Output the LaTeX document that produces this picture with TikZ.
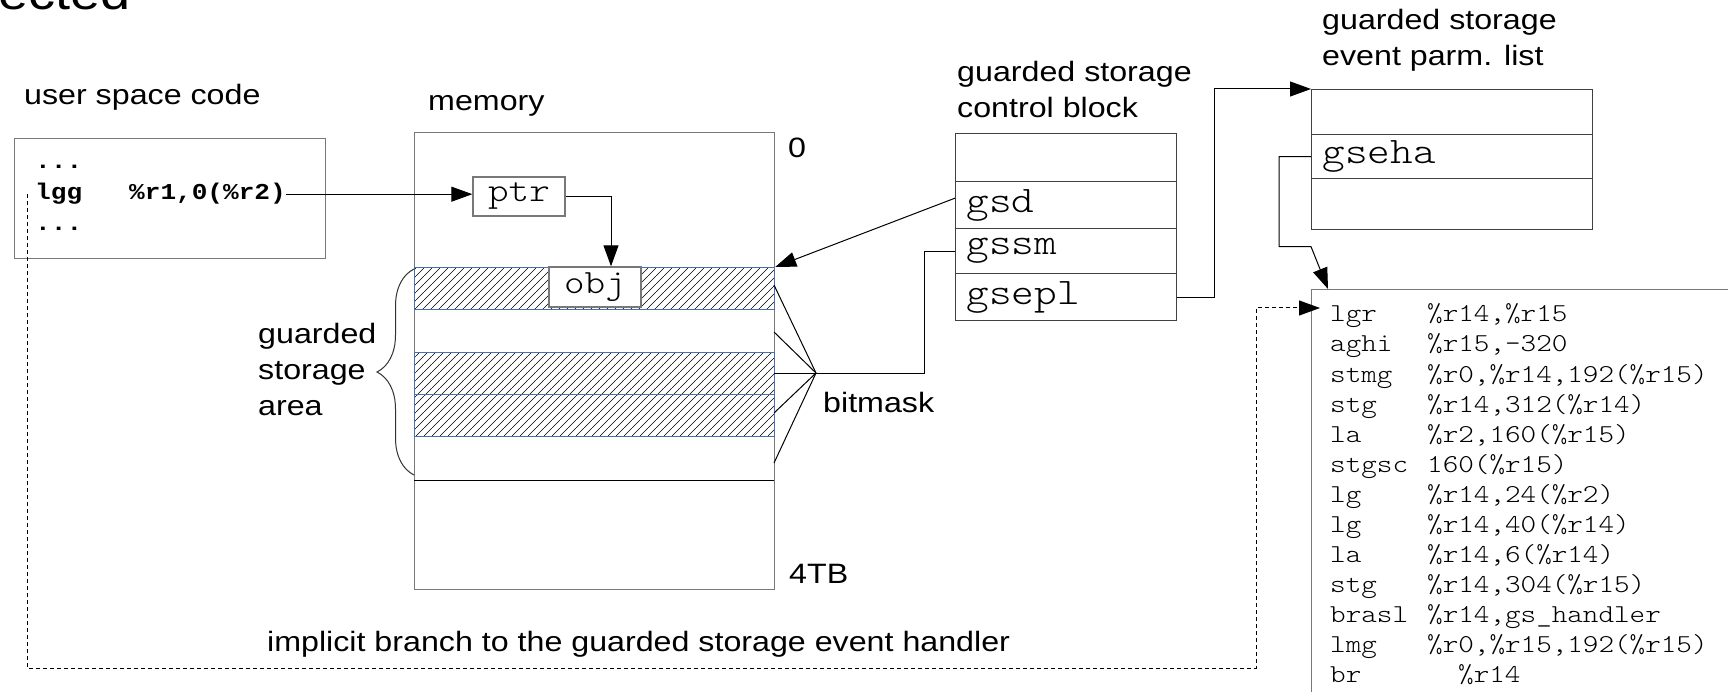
\documentclass[tikz,border=0pt]{standalone}
\usepackage{fontspec}
\setmainfont{Liberation Sans}[FakeStretch=1.15]
\newfontfamily\codefont{Latin Modern Mono Light}[FakeStretch=1.15]
\newfontfamily\boldcode{Liberation Mono}[FakeStretch=1.15]
\usetikzlibrary{arrows.meta,patterns.meta,decorations.pathreplacing,calc}

\definecolor{bandblue}{RGB}{75,110,175}
\definecolor{boxgray}{RGB}{120,120,120}

% diagonal hatching for the guarded bands
\tikzdeclarepattern{
  name=hatch,
  type=uncolored,
  bounding box={(0pt,0pt) and (8pt,8pt)},
  tile size={(8pt,8pt)},
  code={\draw[line width=0.6pt] (-1pt,-1pt) -- (9pt,9pt);}
}

\begin{document}
\begin{tikzpicture}[x=1pt,y=-1pt,
  lbl/.style={font=\fontsize{28}{36}\selectfont, inner sep=0pt, text=black},
  box/.style={rectangle, draw=boxgray, line width=1.3pt, fill=white, inner sep=0pt},
  row/.style={box, draw=black!75, anchor=north west, align=left, inner xsep=11pt, inner ysep=0pt,
    font=\codefont\fontsize{37.5}{40}\selectfont},
  small/.style={box, font=\codefont\fontsize{34}{40}\selectfont},
  ucode/.style={inner sep=0pt, font=\boldcode\bfseries\fontsize{22.7}{31}\selectfont},
  hcode/.style={inner sep=0pt, anchor=base west, font=\codefont\fontsize{25.8}{30}\selectfont},
  band/.style={rectangle, draw=bandblue, line width=1.2pt, pattern=hatch, anchor=north west,
    inner sep=0pt, minimum width=360pt, minimum height=42pt},
  link/.style={line width=1pt, black},
  arr/.style={link, -{Triangle[length=21pt,width=15pt]}},
  darr/.style={arr, dash pattern=on 4pt off 3pt},
]
\useasboundingbox (0,0) rectangle (1728,692);
\clip (0,0) rectangle (1728,692);

% slide heading running off the top edge
\node[inner sep=0pt, anchor=base west, font=\fontsize{47}{52}\selectfont] (title) at (-2,10) {ected};

% user space code
\node[lbl, anchor=base west] (ulabel) at (24,105) {user space code};
\node[box, anchor=north west, minimum width=311pt, minimum height=120pt] (ubox) at (14,138) {};
\node[ucode, anchor=base west] (dots1) at (35,169) {...};
\node[ucode, anchor=base west] (lgg) at (35,200) {lgg\ \ \ \%r1,0(\%r2)};
\node[ucode, anchor=base west] (dots2) at (35,231) {...};

% memory
\node[lbl, anchor=base west] (mlabel) at (428,111) {memory};
\node[box, anchor=north west, minimum width=360pt, minimum height=457pt] (mem) at (414,132) {};
\node[band] (b1) at (414,267) {};
\node[band] (b2) at (414,352) {};
\node[band] (b3) at (414,394) {};
\coordinate (sepl) at (414,480);
\coordinate (sepr) at (774,480);
\draw[line width=1pt] (sepl) -- (sepr);
\node[small, minimum width=92pt, minimum height=39pt] (ptr) at (519,196.5) {ptr};
\node[small, minimum width=92pt, minimum height=40pt] (obj) at (595,287) {obj};
\node[lbl, anchor=base west] (zero) at (788,158) {0};
\node[lbl, anchor=base west] (tb) at (789,583) {4TB};

% guarded storage area brace
\coordinate (brbot) at (414,475);
\coordinate (brtop) at (414,269);
\draw[line width=1pt, black!80, decorate, decoration={brace, amplitude=37pt}] (brbot) -- (brtop);
\node[lbl, align=left, anchor=west] (gsa) at (258,369) {guarded\\storage\\area};

% bitmask fan
\coordinate (bm) at (816,373);
\foreach \y [count=\i] in {285,332,373,413,463} {
  \coordinate (f\i) at (774,\y);
  \draw[link] (bm) -- (f\i);
}
\node[lbl, anchor=base west] (bml) at (823,412) {bitmask};

% guarded storage control block
\node[lbl, align=left, anchor=west] (cblabel) at (957,89) {guarded storage\\control block};
\node[row, text width=199pt, minimum height=48pt] (cb0) at (955,133) {};
\node[row, text width=199pt, minimum height=47pt] (gsd) at (955,181) {gsd};
\node[row, text width=199pt, minimum height=45pt] (gssm) at (955,228) {gssm};
\node[row, text width=199pt, minimum height=47pt] (gsepl) at (955,273) {gsepl};

% guarded storage event parameter list
\node[lbl, align=left, anchor=west] (eplabel) at (1322,40.5) {guarded storage\\event parm. list};
\node[row, text width=259pt, minimum height=45pt] (ep0) at (1311,89) {};
\node[row, text width=259pt, minimum height=44pt] (gseha) at (1311,134) {gseha};
\node[row, text width=259pt, minimum height=51pt] (ep2) at (1311,178) {};

% event handler code
\node[box, anchor=north west, minimum width=460pt, minimum height=450pt] (hbox) at (1311,289) {};
\foreach \m/\a/\x [count=\i from 0] in {
  lgr/{\%r14,\%r15}/1427,
  aghi/{\%r15,-320}/1427,
  stmg/{\%r0,\%r14,192(\%r15)}/1427,
  stg/{\%r14,312(\%r14)}/1427,
  la/{\%r2,160(\%r15)}/1427,
  stgsc/{160(\%r15)}/1427,
  lg/{\%r14,24(\%r2)}/1427,
  lg/{\%r14,40(\%r14)}/1427,
  la/{\%r14,6(\%r14)}/1427,
  stg/{\%r14,304(\%r15)}/1427,
  brasl/{\%r14,gs\_handler}/1427,
  lmg/{\%r0,\%r15,192(\%r15)}/1427,
  br/{\%r14}/1458} {
  \node[hcode] (op\i) at (1330,{322+30*\i}) {\m};
  \node[hcode] (arg\i) at (\x,{322+30*\i}) {\a};
}

% connectors
\draw[arr] (lgg.east) -- (lgg.east -| ptr.west);
\draw[arr] (ptr.east) -| ([xshift=16pt]obj.north);
\draw[arr] ([yshift=7pt]gsd.west) -- (b1.north east);
\draw[link] (gssm.west) -- ++(-31,0) |- (bm);
\draw[arr] (gsepl.east) -- ++(37,0) |- (ep0.north west);
\draw[arr] (gseha.west) -- ++(-32,0) -- ++(0,90) -- ++(32,0) -- ([xshift=17pt]hbox.north west);

% implicit branch into the handler
\coordinate (dturn) at (1256,668);
\coordinate (hin) at (1320,308);
\draw[darr] ([xshift=-8pt]lgg.west) |- (dturn) |- (hin);
\node[lbl, anchor=base west] (impl) at (267,651) {implicit branch to the guarded storage event handler};
\end{tikzpicture}
\end{document}
